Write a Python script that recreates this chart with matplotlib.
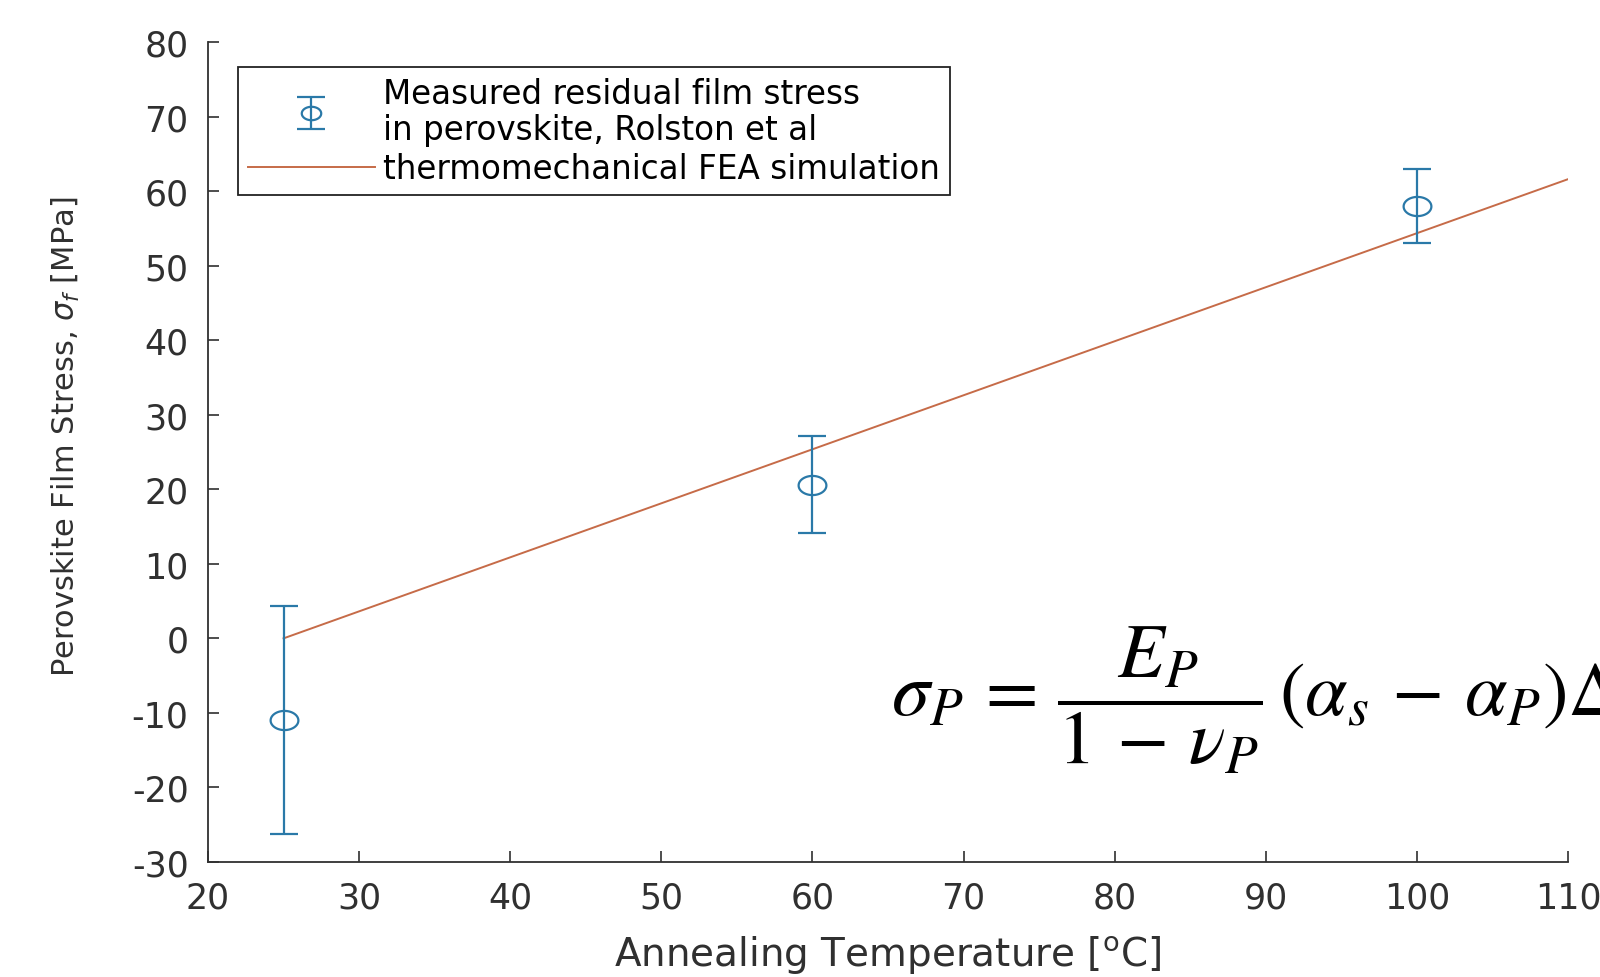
import numpy as np
import matplotlib
matplotlib.use("Agg")
import matplotlib.pyplot as plt
from matplotlib.path import Path

# ---- data ----
temp_measured = [25, 60, 100]
stress_measured = [-10.9, 20.6, 58.0]
stress_err = [15.3, 6.5, 4.95]

temp_fea = [25, 110]
stress_fea = [0.0, 61.6]

x_ticks = [20, 30, 40, 50, 60, 70, 80, 90, 100, 110]
y_ticks = [-30, -20, -10, 0, 10, 20, 30, 40, 50, 60, 70, 80]

label_meas = "Measured residual film stress\nin perovskite, Rolston et al"
label_fea = "thermomechanical FEA simulation"

# ---- style ----
plt.rcParams['font.family'] = ['DejaVu Sans']
plt.rcParams['axes.unicode_minus'] = False
blue = '#2a79a8'
orange = '#c66b48'
dark = '#303030'

# ellipse marker (reference image is horizontally stretched)
t = np.linspace(0, 2 * np.pi, 60)
ell = Path(np.column_stack([1.45 * np.cos(t), np.sin(t)]), closed=True)

fig = plt.figure(figsize=(16, 9.78), dpi=100)
ax = fig.add_axes([0.13, 0.1176, 0.85, 0.8384])

eb = ax.errorbar(temp_measured, stress_measured, yerr=stress_err,
                 linestyle='none', marker=ell, markersize=20,
                 markerfacecolor='none', markeredgecolor=blue,
                 markeredgewidth=1.6, ecolor=blue, elinewidth=1.6,
                 capsize=10, capthick=1.6, zorder=3)
ln, = ax.plot(temp_fea, stress_fea, color=orange, linewidth=1.4, zorder=2)

leg = ax.legend([eb, ln], [label_meas, label_fea], loc='upper left',
                bbox_to_anchor=(0.022, 0.9695), borderaxespad=0,
                fontsize=23.5, frameon=True, fancybox=False, framealpha=1,
                edgecolor='#222222', handlelength=3.9, handletextpad=0.25,
                labelspacing=0.2, borderpad=0.3, markerscale=0.7)
leg.get_frame().set_linewidth(1.3)
for txt in leg.get_texts():
    txt.set_linespacing(1.12)

ax.set_xlim(20, 110)
ax.set_ylim(-30, 80)
ax.set_xticks(x_ticks)
ax.set_yticks(y_ticks)
ax.spines['top'].set_visible(False)
ax.spines['right'].set_visible(False)
for s in ('left', 'bottom'):
    ax.spines[s].set_color(dark)
    ax.spines[s].set_linewidth(1.3)
ax.tick_params(direction='in', length=8, width=1.2, colors=dark,
               labelsize=25)
ax.tick_params(axis='x', pad=13)
ax.tick_params(axis='y', pad=14)

ax.set_xlabel(r'Annealing Temperature [$^{\mathregular{o}}$C]', fontsize=28,
              color=dark)
ax.set_ylabel(r'Perovskite Film Stress, $\sigma_f$ [MPa]', fontsize=22,
              color=dark)
ax.xaxis.set_label_coords(0.5, -0.088)
ax.yaxis.set_label_coords(-0.093, 0.52)

fig.text(0.557, 0.284,
         r'$\sigma_P\,=\,\dfrac{E_P}{1\,-\,\nu_P}\,(\alpha_s\,-\,\alpha_P)\Delta T$',
         fontsize=55, math_fontfamily='stix', ha='left', va='center',
         color='black')

fig.savefig('out.png', dpi=100, facecolor='white')
